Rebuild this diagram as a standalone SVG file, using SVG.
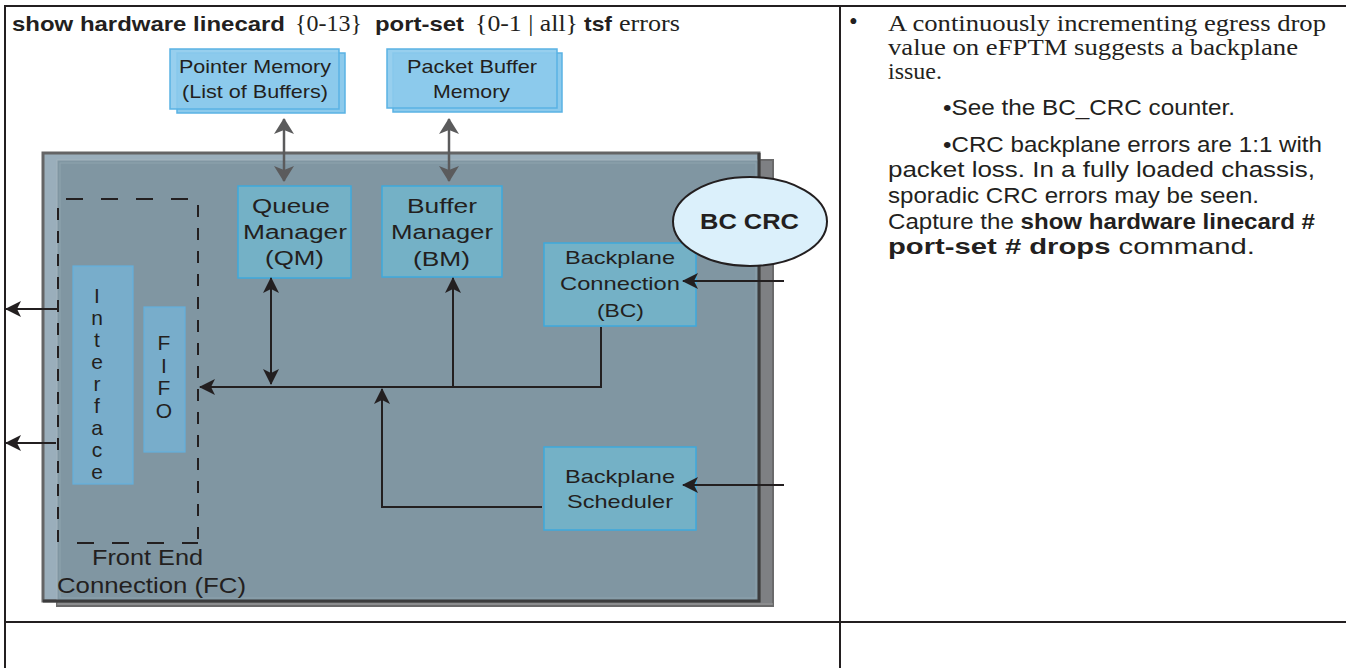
<svg xmlns="http://www.w3.org/2000/svg" width="1346" height="668" viewBox="0 0 1346 668">
<style>
.sans{font-family:"Liberation Sans",Arial,sans-serif;fill:#231f20}
.serif{font-family:"Liberation Serif","Times New Roman",serif;fill:#231f20}
.b{font-weight:bold}
.mem{fill:#8ccaec;stroke:#5ab2e4;stroke-width:1.5}
.blk{fill:#74b1c6;stroke:#3ea9dc;stroke-width:1.5}
.ifc{fill:#78adcb;stroke:#63b0dd;stroke-width:1.2}
.wire{fill:none;stroke:#231f20;stroke-width:2}
.gwire{fill:none;stroke:#5b5b5c;stroke-width:2.5}
.dash{fill:none;stroke:#231f20;stroke-width:2}
.grid{stroke:#231f20;stroke-width:2}
</style>
<defs>
<marker id="ah" viewBox="0 0 16 16" refX="15" refY="8" markerWidth="16" markerHeight="16" markerUnits="userSpaceOnUse" orient="auto-start-reverse">
<path d="M0,0 L16,8 L0,16 L4,8 z" fill="#231f20"/>
</marker>
<marker id="gh" viewBox="0 0 16 20" refX="15" refY="10" markerWidth="16" markerHeight="20" markerUnits="userSpaceOnUse" orient="auto-start-reverse">
<path d="M0,0 L16,10 L0,20 L4,10 z" fill="#5b5b5c"/>
</marker>
</defs>
<rect x="0" y="0" width="1346" height="668" fill="#ffffff"/>

<g id="table">
<line class="grid" x1="5" y1="6" x2="1346" y2="6"/>
<line class="grid" x1="5" y1="5" x2="5" y2="668"/>
<line class="grid" x1="840" y1="6" x2="840" y2="668"/>
<line class="grid" x1="5" y1="622" x2="1346" y2="622"/>
</g>

<g id="title">
<text y="31" font-size="21"><tspan class="sans b" x="12" textLength="273" lengthAdjust="spacingAndGlyphs">show hardware linecard</tspan><tspan class="serif" x="295" font-size="23" textLength="67" lengthAdjust="spacingAndGlyphs">{0-13}</tspan><tspan class="sans b" x="375" textLength="89" lengthAdjust="spacingAndGlyphs">port-set</tspan><tspan class="serif" x="475" font-size="23" textLength="103" lengthAdjust="spacingAndGlyphs">{0-1 | all}</tspan><tspan class="sans b" x="584" textLength="28" lengthAdjust="spacingAndGlyphs">tsf</tspan><tspan class="serif" x="619" font-size="23" textLength="61" lengthAdjust="spacingAndGlyphs">errors</tspan></text>
</g>

<g id="notes">
<text class="serif" x="849" y="30" font-size="25">•</text>
<text class="serif" x="888" y="31" font-size="24" textLength="438" lengthAdjust="spacingAndGlyphs">A continuously incrementing egress drop</text>
<text class="serif" x="888" y="55" font-size="24" textLength="410" lengthAdjust="spacingAndGlyphs">value on eFPTM suggests a backplane</text>
<text class="serif" x="888" y="79" font-size="24">issue.</text>
<text class="sans" x="943" y="115" font-size="22" textLength="292" lengthAdjust="spacingAndGlyphs">•See the BC_CRC counter.</text>
<text class="sans" x="943" y="152" font-size="22" textLength="379" lengthAdjust="spacingAndGlyphs">•CRC backplane errors are 1:1 with</text>
<text class="sans" x="888" y="177" font-size="22" textLength="427" lengthAdjust="spacingAndGlyphs">packet loss. In a fully loaded chassis,</text>
<text class="sans" x="888" y="203" font-size="22" textLength="371" lengthAdjust="spacingAndGlyphs">sporadic CRC errors may be seen.</text>
<text class="sans" x="888" y="229" font-size="22" textLength="427" lengthAdjust="spacingAndGlyphs">Capture the <tspan class="b">show hardware linecard #</tspan></text>
<text class="sans" x="888" y="254" font-size="22" textLength="367" lengthAdjust="spacingAndGlyphs"><tspan class="b">port-set # drops</tspan> command.</text>
</g>

<g id="linecard">
<rect x="57" y="160" width="716" height="446" fill="#7e8083" stroke="#6a6a6b" stroke-width="2"/>
<rect x="43" y="153" width="716" height="448" fill="#9aaebb" stroke="#646465" stroke-width="3"/>
<rect x="57" y="160" width="702" height="441" fill="#8096a2" stroke="#a3b3bd" stroke-width="1"/>
<rect x="60" y="163" width="696" height="435" fill="none" stroke="#8ea3ae" stroke-width="1"/>
<path d="M759,153 L759,601 L43,601" fill="none" stroke="#3c3c3d" stroke-width="3"/>
<line x1="57" y1="604" x2="773" y2="604" stroke="#9a9a9a" stroke-width="1"/>
</g>

<g id="pointer-memory">
<rect class="mem" x="177" y="53" width="168" height="60"/>
<rect class="mem" x="170" y="49" width="169" height="60" fill-opacity="0.9"/>
<text class="sans" x="179" y="73" font-size="19" textLength="152" lengthAdjust="spacingAndGlyphs">Pointer Memory</text>
<text class="sans" x="182" y="98" font-size="19" textLength="146" lengthAdjust="spacingAndGlyphs">(List of Buffers)</text>
</g>

<g id="packet-buffer-memory">
<rect class="mem" x="393" y="53" width="169" height="59"/>
<rect class="mem" x="387" y="49" width="170" height="59" fill-opacity="0.9"/>
<text class="sans" x="407" y="73" font-size="19" textLength="130" lengthAdjust="spacingAndGlyphs">Packet Buffer</text>
<text class="sans" x="433" y="98" font-size="19" textLength="77" lengthAdjust="spacingAndGlyphs">Memory</text>
</g>

<g id="queue-manager">
<rect class="blk" x="238" y="186" width="113" height="92"/>
<text class="sans" x="252" y="213" font-size="20" textLength="78" lengthAdjust="spacingAndGlyphs">Queue</text>
<text class="sans" x="243" y="239" font-size="20" textLength="104" lengthAdjust="spacingAndGlyphs">Manager</text>
<text class="sans" x="265" y="265" font-size="20" textLength="59" lengthAdjust="spacingAndGlyphs">(QM)</text>
</g>

<g id="buffer-manager">
<rect class="blk" x="382" y="186" width="120" height="91"/>
<text class="sans" x="407" y="213" font-size="20" textLength="70" lengthAdjust="spacingAndGlyphs">Buffer</text>
<text class="sans" x="391" y="239" font-size="20" textLength="102" lengthAdjust="spacingAndGlyphs">Manager</text>
<text class="sans" x="413" y="266" font-size="20" textLength="57" lengthAdjust="spacingAndGlyphs">(BM)</text>
</g>

<g id="backplane-connection">
<rect class="blk" x="544" y="243" width="152" height="83"/>
<text class="sans" x="565" y="264" font-size="19" textLength="110" lengthAdjust="spacingAndGlyphs">Backplane</text>
<text class="sans" x="560" y="290" font-size="19" textLength="120" lengthAdjust="spacingAndGlyphs">Connection</text>
<text class="sans" x="597" y="317" font-size="19" textLength="47" lengthAdjust="spacingAndGlyphs">(BC)</text>
</g>

<g id="backplane-scheduler">
<rect class="blk" x="544" y="447" width="152" height="83"/>
<text class="sans" x="565" y="483" font-size="19" textLength="110" lengthAdjust="spacingAndGlyphs">Backplane</text>
<text class="sans" x="567" y="508" font-size="19" textLength="106" lengthAdjust="spacingAndGlyphs">Scheduler</text>
</g>

<g id="bc-crc">
<ellipse cx="750" cy="221.5" rx="77" ry="44.5" fill="#dbf0fb" stroke="#231f20" stroke-width="2"/>
<text class="sans b" x="700" y="229" font-size="22" textLength="99" lengthAdjust="spacingAndGlyphs">BC CRC</text>
</g>

<g id="front-end-connection">
<line class="dash" x1="66" y1="199" x2="198" y2="199" stroke-dasharray="17 18"/>
<line class="dash" x1="77" y1="543" x2="198" y2="543" stroke-dasharray="17 18"/>
<line class="dash" x1="58" y1="208" x2="58" y2="545" stroke-dasharray="12 11"/>
<line class="dash" x1="198" y1="205" x2="198" y2="543" stroke-dasharray="12 11"/>
<text class="sans" x="92" y="565" font-size="22" textLength="111" lengthAdjust="spacingAndGlyphs">Front End</text>
<text class="sans" x="57" y="593" font-size="22" textLength="189" lengthAdjust="spacingAndGlyphs">Connection (FC)</text>
</g>

<g id="interface">
<rect class="ifc" x="73" y="266" width="60" height="218"/>
<g class="sans" font-size="21" text-anchor="middle">
<text x="97" y="303">I</text>
<text x="97" y="325">n</text>
<text x="97" y="347">t</text>
<text x="97" y="369">e</text>
<text x="97" y="391">r</text>
<text x="97" y="413">f</text>
<text x="97" y="435">a</text>
<text x="97" y="457">c</text>
<text x="97" y="479">e</text>
</g>
</g>

<g id="fifo">
<rect class="ifc" x="144" y="307" width="41" height="145"/>
<g class="sans" font-size="21" text-anchor="middle">
<text x="164" y="350">F</text>
<text x="164" y="373">I</text>
<text x="164" y="395">F</text>
<text x="164" y="418">O</text>
</g>
</g>

<g id="connectors">
<line class="gwire" x1="284" y1="119" x2="284" y2="181" marker-start="url(#gh)" marker-end="url(#gh)"/>
<line class="gwire" x1="449" y1="119" x2="449" y2="181" marker-start="url(#gh)" marker-end="url(#gh)"/>
<line class="wire" x1="271" y1="278" x2="271" y2="384" marker-start="url(#ah)" marker-end="url(#ah)"/>
<line class="wire" x1="453" y1="388" x2="453" y2="278" marker-end="url(#ah)"/>
<path class="wire" d="M601,327 L601,387 L200,387" marker-end="url(#ah)"/>
<path class="wire" d="M542,507 L382,507 L382,389" marker-end="url(#ah)"/>
<line class="wire" x1="784" y1="281" x2="683" y2="281" marker-end="url(#ah)"/>
<line class="wire" x1="784" y1="485" x2="683" y2="485" marker-end="url(#ah)"/>
<line class="wire" x1="58" y1="309" x2="6" y2="309" marker-end="url(#ah)"/>
<line class="wire" x1="56" y1="443" x2="6" y2="443" marker-end="url(#ah)"/>
</g>
</svg>
